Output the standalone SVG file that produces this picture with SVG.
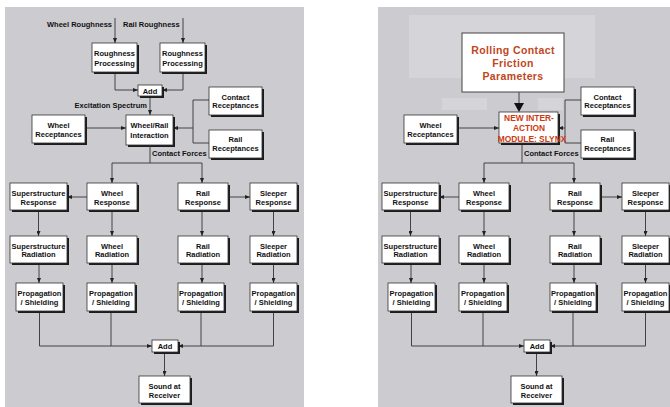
<svg xmlns="http://www.w3.org/2000/svg" width="670" height="407" viewBox="0 0 670 407">
<style>
.bg{fill:#cccbd0}
.lt{fill:#d5d4d8}
.sh{fill:#1c1c1c}
.bx{fill:#fff;stroke:#333;stroke-width:0.8}
.t{font-family:"Liberation Sans",Arial,sans-serif;font-weight:bold;font-size:7.5px;fill:#111;text-anchor:middle}
.s{text-anchor:start}
.e{text-anchor:end}
.c{fill:none;stroke:#333;stroke-width:0.9}
.a{marker-end:url(#ar)}
.rc{font-family:"Liberation Sans",Arial,sans-serif;font-weight:bold;font-size:10.5px;fill:#c0461c;text-anchor:middle;letter-spacing:0.4px}
.nm{font-family:"Liberation Sans",Arial,sans-serif;font-weight:bold;font-size:8.4px;fill:#cc3a12;text-anchor:middle}
</style>
<defs>
<marker id="ar" viewBox="0 0 10 8" refX="10" refY="4" markerWidth="5" markerHeight="4" markerUnits="userSpaceOnUse" orient="auto"><path d="M0,0L10,4L0,8z" fill="#222"/></marker>
</defs>
<rect width="670" height="407" fill="#fff"/>
<rect class="bg" x="5" y="7" width="299" height="400"/>
<rect class="bg" x="378" y="7" width="292" height="400"/>
<rect class="lt" x="409" y="15" width="186" height="63"/>
<rect class="lt" x="442" y="98" width="45" height="12"/>
<rect class="lt" x="538" y="98" width="25" height="12"/>

<!-- LEFT PANEL -->
<g id="left-labels">
<text class="t e" x="112" y="27">Wheel Roughness</text>
<text class="t s" x="123" y="27">Rail Roughness</text>
<text class="t e" x="147" y="108">Excitation Spectrum</text>
<text class="t s" x="152" y="156">Contact Forces</text>
</g>
<g id="left-connectors">
<path class="c a" d="M115,18V43"/>
<path class="c a" d="M183,18V43"/>
<path class="c a" d="M115,72V90H138"/>
<path class="c a" d="M183,72V90H162"/>
<path class="c a" d="M150,96V115"/>
<path class="c a" d="M85,128H126"/>
<path class="c" d="M209,100H193V143H209"/>
<path class="c a" d="M193,128H173"/>
</g>
<g id="L-rp1"><rect class="sh" x="94" y="45" width="45" height="29"/><rect class="bx" x="92" y="43" width="45" height="29"/><text class="t" x="114.5" y="56">Roughness</text><text class="t" x="114.5" y="65.5">Processing</text></g>
<g id="L-rp2"><rect class="sh" x="162" y="45" width="45" height="29"/><rect class="bx" x="160" y="43" width="45" height="29"/><text class="t" x="182.5" y="56">Roughness</text><text class="t" x="182.5" y="65.5">Processing</text></g>
<g id="L-add1"><rect class="sh" x="140" y="87" width="24" height="11"/><rect class="bx" x="138" y="85" width="24" height="11"/><text class="t" x="150" y="93.5">Add</text></g>
<g id="L-wr"><rect class="sh" x="128" y="117" width="47" height="30"/><rect class="bx" x="126" y="115" width="47" height="30"/><text class="t" x="149.5" y="128">Wheel/Rail</text><text class="t" x="149.5" y="138">Interaction</text></g>
<g id="L-wrec"><rect class="sh" x="34" y="117" width="53" height="28"/><rect class="bx" x="32" y="115" width="53" height="28"/><text class="t" x="58.5" y="127.5">Wheel</text><text class="t" x="58.5" y="136.5">Receptances</text></g>
<g id="L-crec"><rect class="sh" x="211" y="89" width="53" height="28"/><rect class="bx" x="209" y="87" width="53" height="28"/><text class="t" x="235.5" y="99.5">Contact</text><text class="t" x="235.5" y="108">Receptances</text></g>
<g id="L-rrec"><rect class="sh" x="211" y="132" width="53" height="28"/><rect class="bx" x="209" y="130" width="53" height="28"/><text class="t" x="235.5" y="142">Rail</text><text class="t" x="235.5" y="151">Receptances</text></g>

<!-- Lower common part (left) -->
<g id="lower-left">
<g id="L-connectors">
<path class="c" d="M150,145V163"/>
<path class="c" d="M112,163H202"/>
<path class="c a" d="M112,163V183"/>
<path class="c a" d="M202,163V183"/>
<path class="c a" d="M87,197H67"/>
<path class="c a" d="M228,197H250"/>
<path class="c a" d="M38.5,210V236"/>
<path class="c a" d="M112,210V236"/>
<path class="c a" d="M202,210V236"/>
<path class="c a" d="M273.5,210V236"/>
<path class="c a" d="M39,263V283"/>
<path class="c a" d="M112,263V283"/>
<path class="c a" d="M202,263V283"/>
<path class="c a" d="M273.5,263V283"/>
<path class="c a" d="M39.5,313V346H152"/>
<path class="c" d="M111,313V346"/>
<path class="c" d="M201,313V346"/>
<path class="c a" d="M273.5,313V346H178"/>
<path class="c a" d="M164.5,353V376"/>
</g>
<g id="L-supresp"><rect class="sh" x="12" y="185" width="57" height="27"/><rect class="bx" x="10" y="183" width="57" height="27"/><text class="t" x="38.5" y="195.5">Superstructure</text><text class="t" x="38.5" y="204.5">Response</text></g>
<g id="L-wresp"><rect class="sh" x="89" y="185" width="50" height="27"/><rect class="bx" x="87" y="183" width="50" height="27"/><text class="t" x="112" y="195.5">Wheel</text><text class="t" x="112" y="204.5">Response</text></g>
<g id="L-rresp"><rect class="sh" x="180" y="185" width="50" height="27"/><rect class="bx" x="178" y="183" width="50" height="27"/><text class="t" x="203" y="195.5">Rail</text><text class="t" x="203" y="204.5">Response</text></g>
<g id="L-sresp"><rect class="sh" x="252" y="185" width="47" height="27"/><rect class="bx" x="250" y="183" width="47" height="27"/><text class="t" x="273.5" y="195.5">Sleeper</text><text class="t" x="273.5" y="204.5">Response</text></g>
<g id="L-suprad"><rect class="sh" x="12" y="238" width="57" height="27"/><rect class="bx" x="10" y="236" width="57" height="27"/><text class="t" x="38.5" y="248.5">Superstructure</text><text class="t" x="38.5" y="257">Radiation</text></g>
<g id="L-wrad"><rect class="sh" x="89" y="238" width="50" height="27"/><rect class="bx" x="87" y="236" width="50" height="27"/><text class="t" x="112" y="248.5">Wheel</text><text class="t" x="112" y="257">Radiation</text></g>
<g id="L-rrad"><rect class="sh" x="180" y="238" width="50" height="27"/><rect class="bx" x="178" y="236" width="50" height="27"/><text class="t" x="203" y="248.5">Rail</text><text class="t" x="203" y="257">Radiation</text></g>
<g id="L-srad"><rect class="sh" x="252" y="238" width="47" height="27"/><rect class="bx" x="250" y="236" width="47" height="27"/><text class="t" x="273.5" y="248.5">Sleeper</text><text class="t" x="273.5" y="257">Radiation</text></g>
<g id="L-prop1"><rect class="sh" x="18" y="285" width="47" height="28"/><rect class="bx" x="16" y="283" width="47" height="28"/><text class="t" x="39.5" y="296">Propagation</text><text class="t" x="39.5" y="305">/ Shielding</text></g>
<g id="L-prop2"><rect class="sh" x="89" y="285" width="48" height="28"/><rect class="bx" x="87" y="283" width="48" height="28"/><text class="t" x="111" y="296">Propagation</text><text class="t" x="111" y="305">/ Shielding</text></g>
<g id="L-prop3"><rect class="sh" x="180" y="285" width="46" height="28"/><rect class="bx" x="178" y="283" width="46" height="28"/><text class="t" x="201" y="296">Propagation</text><text class="t" x="201" y="305">/ Shielding</text></g>
<g id="L-prop4"><rect class="sh" x="252" y="285" width="47" height="28"/><rect class="bx" x="250" y="283" width="47" height="28"/><text class="t" x="273.5" y="296">Propagation</text><text class="t" x="273.5" y="305">/ Shielding</text></g>
<g id="L-add2"><rect class="sh" x="154" y="342" width="26" height="12"/><rect class="bx" x="152" y="340" width="26" height="12"/><text class="t" x="165" y="349">Add</text></g>
<g id="L-sound"><rect class="sh" x="141" y="378" width="51" height="27"/><rect class="bx" x="139" y="376" width="51" height="27"/><text class="t" x="164.5" y="388.5">Sound at</text><text class="t" x="164.5" y="397.5">Receiver</text></g>
</g>

<!-- RIGHT PANEL -->
<g id="right-labels">
<text class="t s" x="524" y="156">Contact Forces</text>
</g>
<g id="right-connectors">
<path class="c" d="M519,92V104" stroke-width="1.2"/>
<path d="M514,103L524,103L519,112z" fill="#111"/>
<path class="c a" d="M457,128H499"/>
<path class="c" d="M581,100H565V143H581"/>
<path class="c a" d="M565,128H558"/>
</g>
<g id="R-rcf"><rect x="462" y="33" width="102" height="59" fill="#fff" stroke="#444" stroke-width="1"/><text class="rc" x="513" y="54">Rolling Contact</text><text class="rc" x="513" y="67">Friction</text><text class="rc" x="513" y="80">Parameters</text></g>
<g id="R-module"><rect class="sh" x="501" y="114" width="59" height="31"/><rect class="bx" x="499" y="112" width="59" height="31"/><text class="nm" x="529" y="120.5">NEW INTER-</text><text class="nm" x="529" y="131">ACTION</text><text class="nm" x="532" y="141.5">MODULE: SLYNX</text></g>
<g id="R-wrec"><rect class="sh" x="406" y="117" width="53" height="28"/><rect class="bx" x="404" y="115" width="53" height="28"/><text class="t" x="430.5" y="127.5">Wheel</text><text class="t" x="430.5" y="136.5">Receptances</text></g>
<g id="R-crec"><rect class="sh" x="583" y="89" width="53" height="28"/><rect class="bx" x="581" y="87" width="53" height="28"/><text class="t" x="607.5" y="99.5">Contact</text><text class="t" x="607.5" y="108">Receptances</text></g>
<g id="R-rrec"><rect class="sh" x="583" y="132" width="53" height="28"/><rect class="bx" x="581" y="130" width="53" height="28"/><text class="t" x="607.5" y="142">Rail</text><text class="t" x="607.5" y="151">Receptances</text></g>

<g id="lower-right" transform="translate(372,0)">
<g id="R-connectors">
<path class="c" d="M150,145V163"/>
<path class="c" d="M112,163H202"/>
<path class="c a" d="M112,163V183"/>
<path class="c a" d="M202,163V183"/>
<path class="c a" d="M87,197H67"/>
<path class="c a" d="M228,197H250"/>
<path class="c a" d="M38.5,210V236"/>
<path class="c a" d="M112,210V236"/>
<path class="c a" d="M202,210V236"/>
<path class="c a" d="M273.5,210V236"/>
<path class="c a" d="M39,263V283"/>
<path class="c a" d="M112,263V283"/>
<path class="c a" d="M202,263V283"/>
<path class="c a" d="M273.5,263V283"/>
<path class="c a" d="M39.5,313V346H152"/>
<path class="c" d="M111,313V346"/>
<path class="c" d="M201,313V346"/>
<path class="c a" d="M273.5,313V346H178"/>
<path class="c a" d="M164.5,353V376"/>
</g>
<g id="R-supresp"><rect class="sh" x="12" y="185" width="57" height="27"/><rect class="bx" x="10" y="183" width="57" height="27"/><text class="t" x="38.5" y="195.5">Superstructure</text><text class="t" x="38.5" y="204.5">Response</text></g>
<g id="R-wresp"><rect class="sh" x="89" y="185" width="50" height="27"/><rect class="bx" x="87" y="183" width="50" height="27"/><text class="t" x="112" y="195.5">Wheel</text><text class="t" x="112" y="204.5">Response</text></g>
<g id="R-rresp"><rect class="sh" x="180" y="185" width="50" height="27"/><rect class="bx" x="178" y="183" width="50" height="27"/><text class="t" x="203" y="195.5">Rail</text><text class="t" x="203" y="204.5">Response</text></g>
<g id="R-sresp"><rect class="sh" x="252" y="185" width="47" height="27"/><rect class="bx" x="250" y="183" width="47" height="27"/><text class="t" x="273.5" y="195.5">Sleeper</text><text class="t" x="273.5" y="204.5">Response</text></g>
<g id="R-suprad"><rect class="sh" x="12" y="238" width="57" height="27"/><rect class="bx" x="10" y="236" width="57" height="27"/><text class="t" x="38.5" y="248.5">Superstructure</text><text class="t" x="38.5" y="257">Radiation</text></g>
<g id="R-wrad"><rect class="sh" x="89" y="238" width="50" height="27"/><rect class="bx" x="87" y="236" width="50" height="27"/><text class="t" x="112" y="248.5">Wheel</text><text class="t" x="112" y="257">Radiation</text></g>
<g id="R-rrad"><rect class="sh" x="180" y="238" width="50" height="27"/><rect class="bx" x="178" y="236" width="50" height="27"/><text class="t" x="203" y="248.5">Rail</text><text class="t" x="203" y="257">Radiation</text></g>
<g id="R-srad"><rect class="sh" x="252" y="238" width="47" height="27"/><rect class="bx" x="250" y="236" width="47" height="27"/><text class="t" x="273.5" y="248.5">Sleeper</text><text class="t" x="273.5" y="257">Radiation</text></g>
<g id="R-prop1"><rect class="sh" x="18" y="285" width="47" height="28"/><rect class="bx" x="16" y="283" width="47" height="28"/><text class="t" x="39.5" y="296">Propagation</text><text class="t" x="39.5" y="305">/ Shielding</text></g>
<g id="R-prop2"><rect class="sh" x="89" y="285" width="48" height="28"/><rect class="bx" x="87" y="283" width="48" height="28"/><text class="t" x="111" y="296">Propagation</text><text class="t" x="111" y="305">/ Shielding</text></g>
<g id="R-prop3"><rect class="sh" x="180" y="285" width="46" height="28"/><rect class="bx" x="178" y="283" width="46" height="28"/><text class="t" x="201" y="296">Propagation</text><text class="t" x="201" y="305">/ Shielding</text></g>
<g id="R-prop4"><rect class="sh" x="252" y="285" width="47" height="28"/><rect class="bx" x="250" y="283" width="47" height="28"/><text class="t" x="273.5" y="296">Propagation</text><text class="t" x="273.5" y="305">/ Shielding</text></g>
<g id="R-add2"><rect class="sh" x="154" y="342" width="26" height="12"/><rect class="bx" x="152" y="340" width="26" height="12"/><text class="t" x="165" y="349">Add</text></g>
<g id="R-sound"><rect class="sh" x="141" y="378" width="51" height="27"/><rect class="bx" x="139" y="376" width="51" height="27"/><text class="t" x="164.5" y="388.5">Sound at</text><text class="t" x="164.5" y="397.5">Receiver</text></g>
</g>
</svg>
